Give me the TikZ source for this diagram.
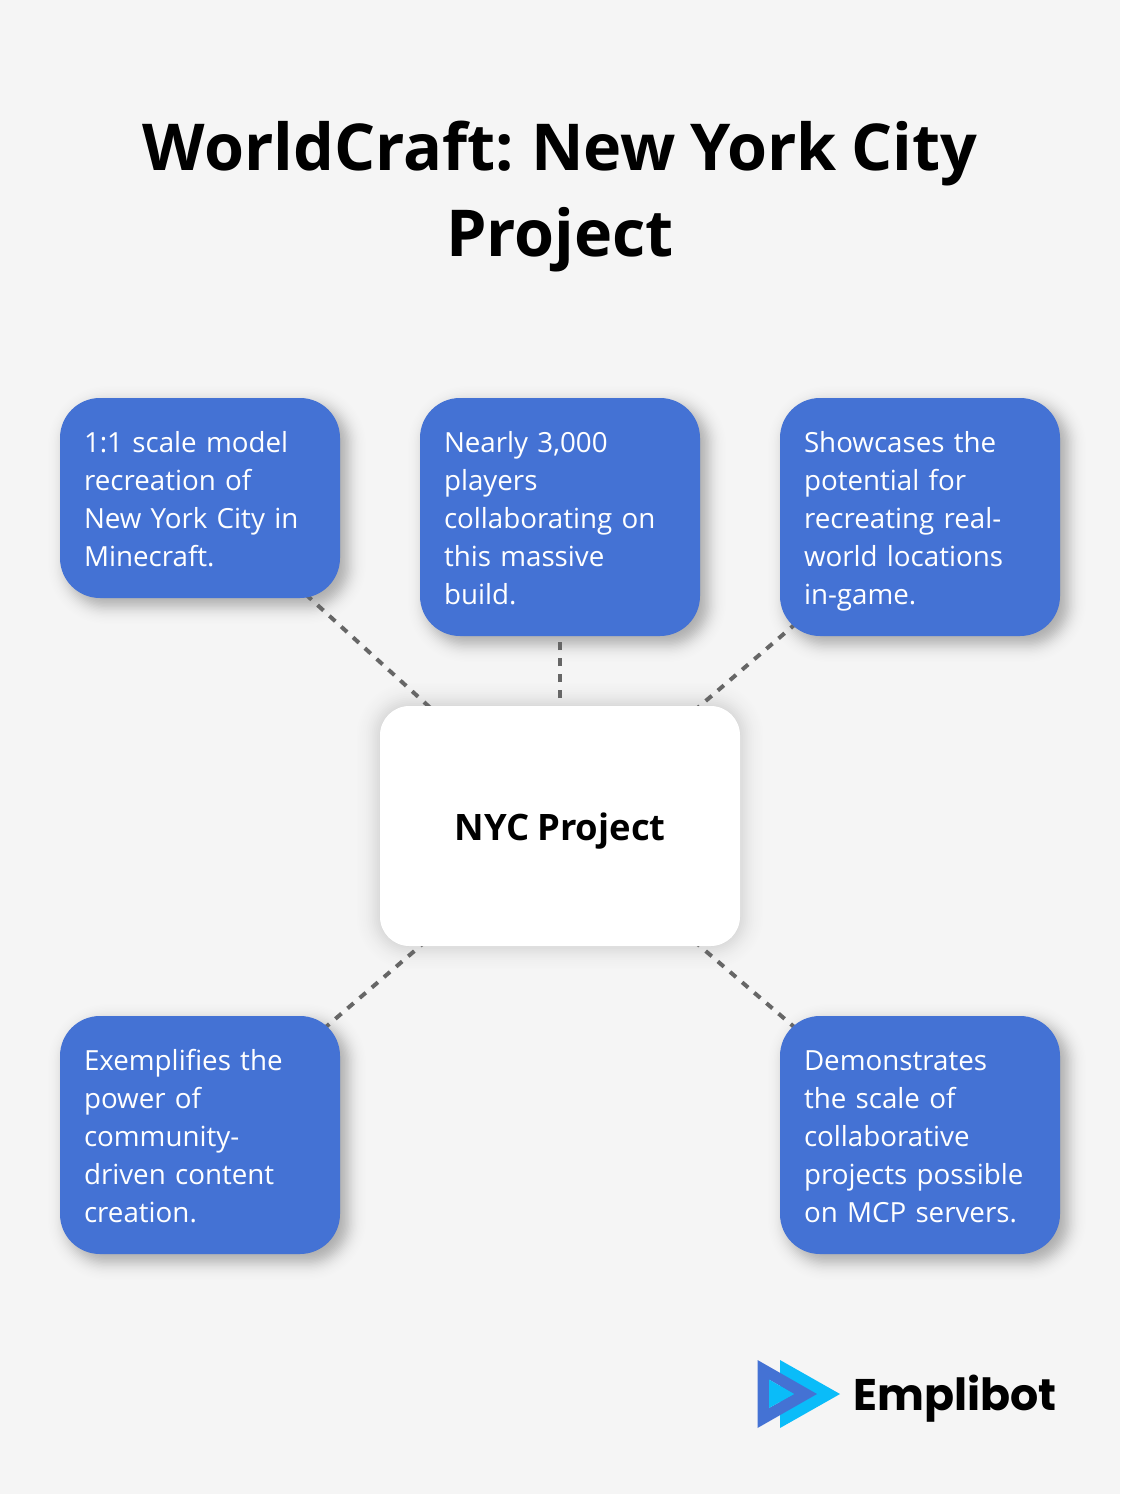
\documentclass[tikz,border=0pt]{standalone}
\usepackage{fontspec}
\setmainfont{Open Sans}[WordSpace=0.85]
\newfontfamily\bodyfont{Open Sans}[WordSpace=0.6]
\newfontfamily\logofont{Poppins}[UprightFont=* Bold]
\usetikzlibrary{backgrounds,calc}
\definecolor{pagebg}{HTML}{F5F5F5}
\definecolor{boxblue}{HTML}{4472D4}
\definecolor{logolight}{HTML}{0ABCF9}
\definecolor{linegrey}{HTML}{666666}
\tikzset{
  x=0.75pt,y=-0.75pt,
  infobox/.style={fill=boxblue,rounded corners=30pt,inner sep=0pt,outer sep=0pt,text=white,
    align=left,font=\bodyfont\fontsize{20.8}{28.5}\selectfont,anchor=center},
  centerbox/.style={fill=white,rounded corners=22pt,minimum width=270pt,minimum height=180pt,
    inner sep=0pt,outer sep=0pt,font=\fontsize{27.3}{34}\selectfont\bfseries},
  link/.style={draw=linegrey,line width=3pt,dash pattern=on 6pt off 6pt},
  titletext/.style={font=\fontsize{48.5}{64}\selectfont\bfseries,align=center,text=black}
}
% soft shadow with a gaussian edge: #1 centre, #2 half-width, #3 half-height, #4 radius, #6 sigma (px), #5 total strength
\newcommand{\softshadow}[6]{%
  \foreach \g in {0,...,31}{%
    \pgfmathsetmacro{\gr}{#6*(2.5-5*(\g+0.5)/32)}
    \pgfmathsetmacro{\rad}{max(2,#4+\gr)}
    \pgfmathsetmacro{\al}{#5*0.0623*exp(-0.5*(\gr/#6)^2)}
    \fill[black,opacity=\al,rounded corners=\rad*0.75pt]
      ($(#1)+(-#2-\gr,-#3-\gr)$) rectangle ($(#1)+(#2+\gr,#3+\gr)$);
  }%
}
\begin{document}
\begin{tikzpicture}
\useasboundingbox (0,0) rectangle (1120,1494);

\node[titletext] (title) at (560,196.5) {WorldCraft:\kern-2pt{} New York City\\Project};

\newcommand{\boxat}[5]{%
 \node[infobox,minimum width=210pt,text width=174pt,minimum height=#4*0.75pt] (#1) at (#2,#3) {\rule{0pt}{\dimexpr\ht\strutbox+6pt}#5\strut};}
\boxat{a}{200}{498}{200}{1:1 scale model\\recreation of\\New York City in\\Minecraft.}
\boxat{b}{560}{517}{238}{Nearly 3,000\\players\\collaborating on\\this massive\\build.}
\boxat{c}{920}{517}{238}{Showcases the\\potential for\\recreating real-\\world locations\\in-game.}
\boxat{d}{200}{1135}{238}{Exemplifies the\\power of\\community-\\driven content\\creation.}
\boxat{e}{920}{1135}{238}{Demonstrates\\the scale of\\collaborative\\projects possible\\on MCP servers.}
\node[centerbox] (hub) at (560,826) {\raisebox{-11.1pt}[0pt][0pt]{NYC Project}};

\begin{scope}[on background layer]
  \fill[pagebg] (0,0) rectangle (1120,1494);
  \softshadow{207,505}{140}{100}{40}{0.36}{9}
  \softshadow{567,524}{140}{119}{40}{0.36}{9}
  \softshadow{927,524}{140}{119}{40}{0.36}{9}
  \softshadow{207,1142}{140}{119}{40}{0.36}{9}
  \softshadow{927,1142}{140}{119}{40}{0.36}{9}
  \softshadow{560,826}{180}{120}{30}{0.22}{12}
  \foreach \t in {a,b,c,d,e}{ \draw[link] (hub.center) -- (\t.center); }
\end{scope}

% logo
\fill[logolight] (780,1360) -- (840,1394) -- (780,1428) -- cycle;
\fill[boxblue,even odd rule] (757.5,1360) -- (817,1394) -- (757.5,1428) -- cycle
   (769,1379.5) -- (794,1394) -- (769,1408) -- cycle;
\fill[logolight] (769,1379.5) -- (794,1394) -- (769,1408) -- cycle;
\node[anchor=base west,inner sep=0pt,font=\logofont\fontsize{33.2}{40}\selectfont,text=black] (logo) at (853,1410.5) {Emplibot};
\end{tikzpicture}
\end{document}
